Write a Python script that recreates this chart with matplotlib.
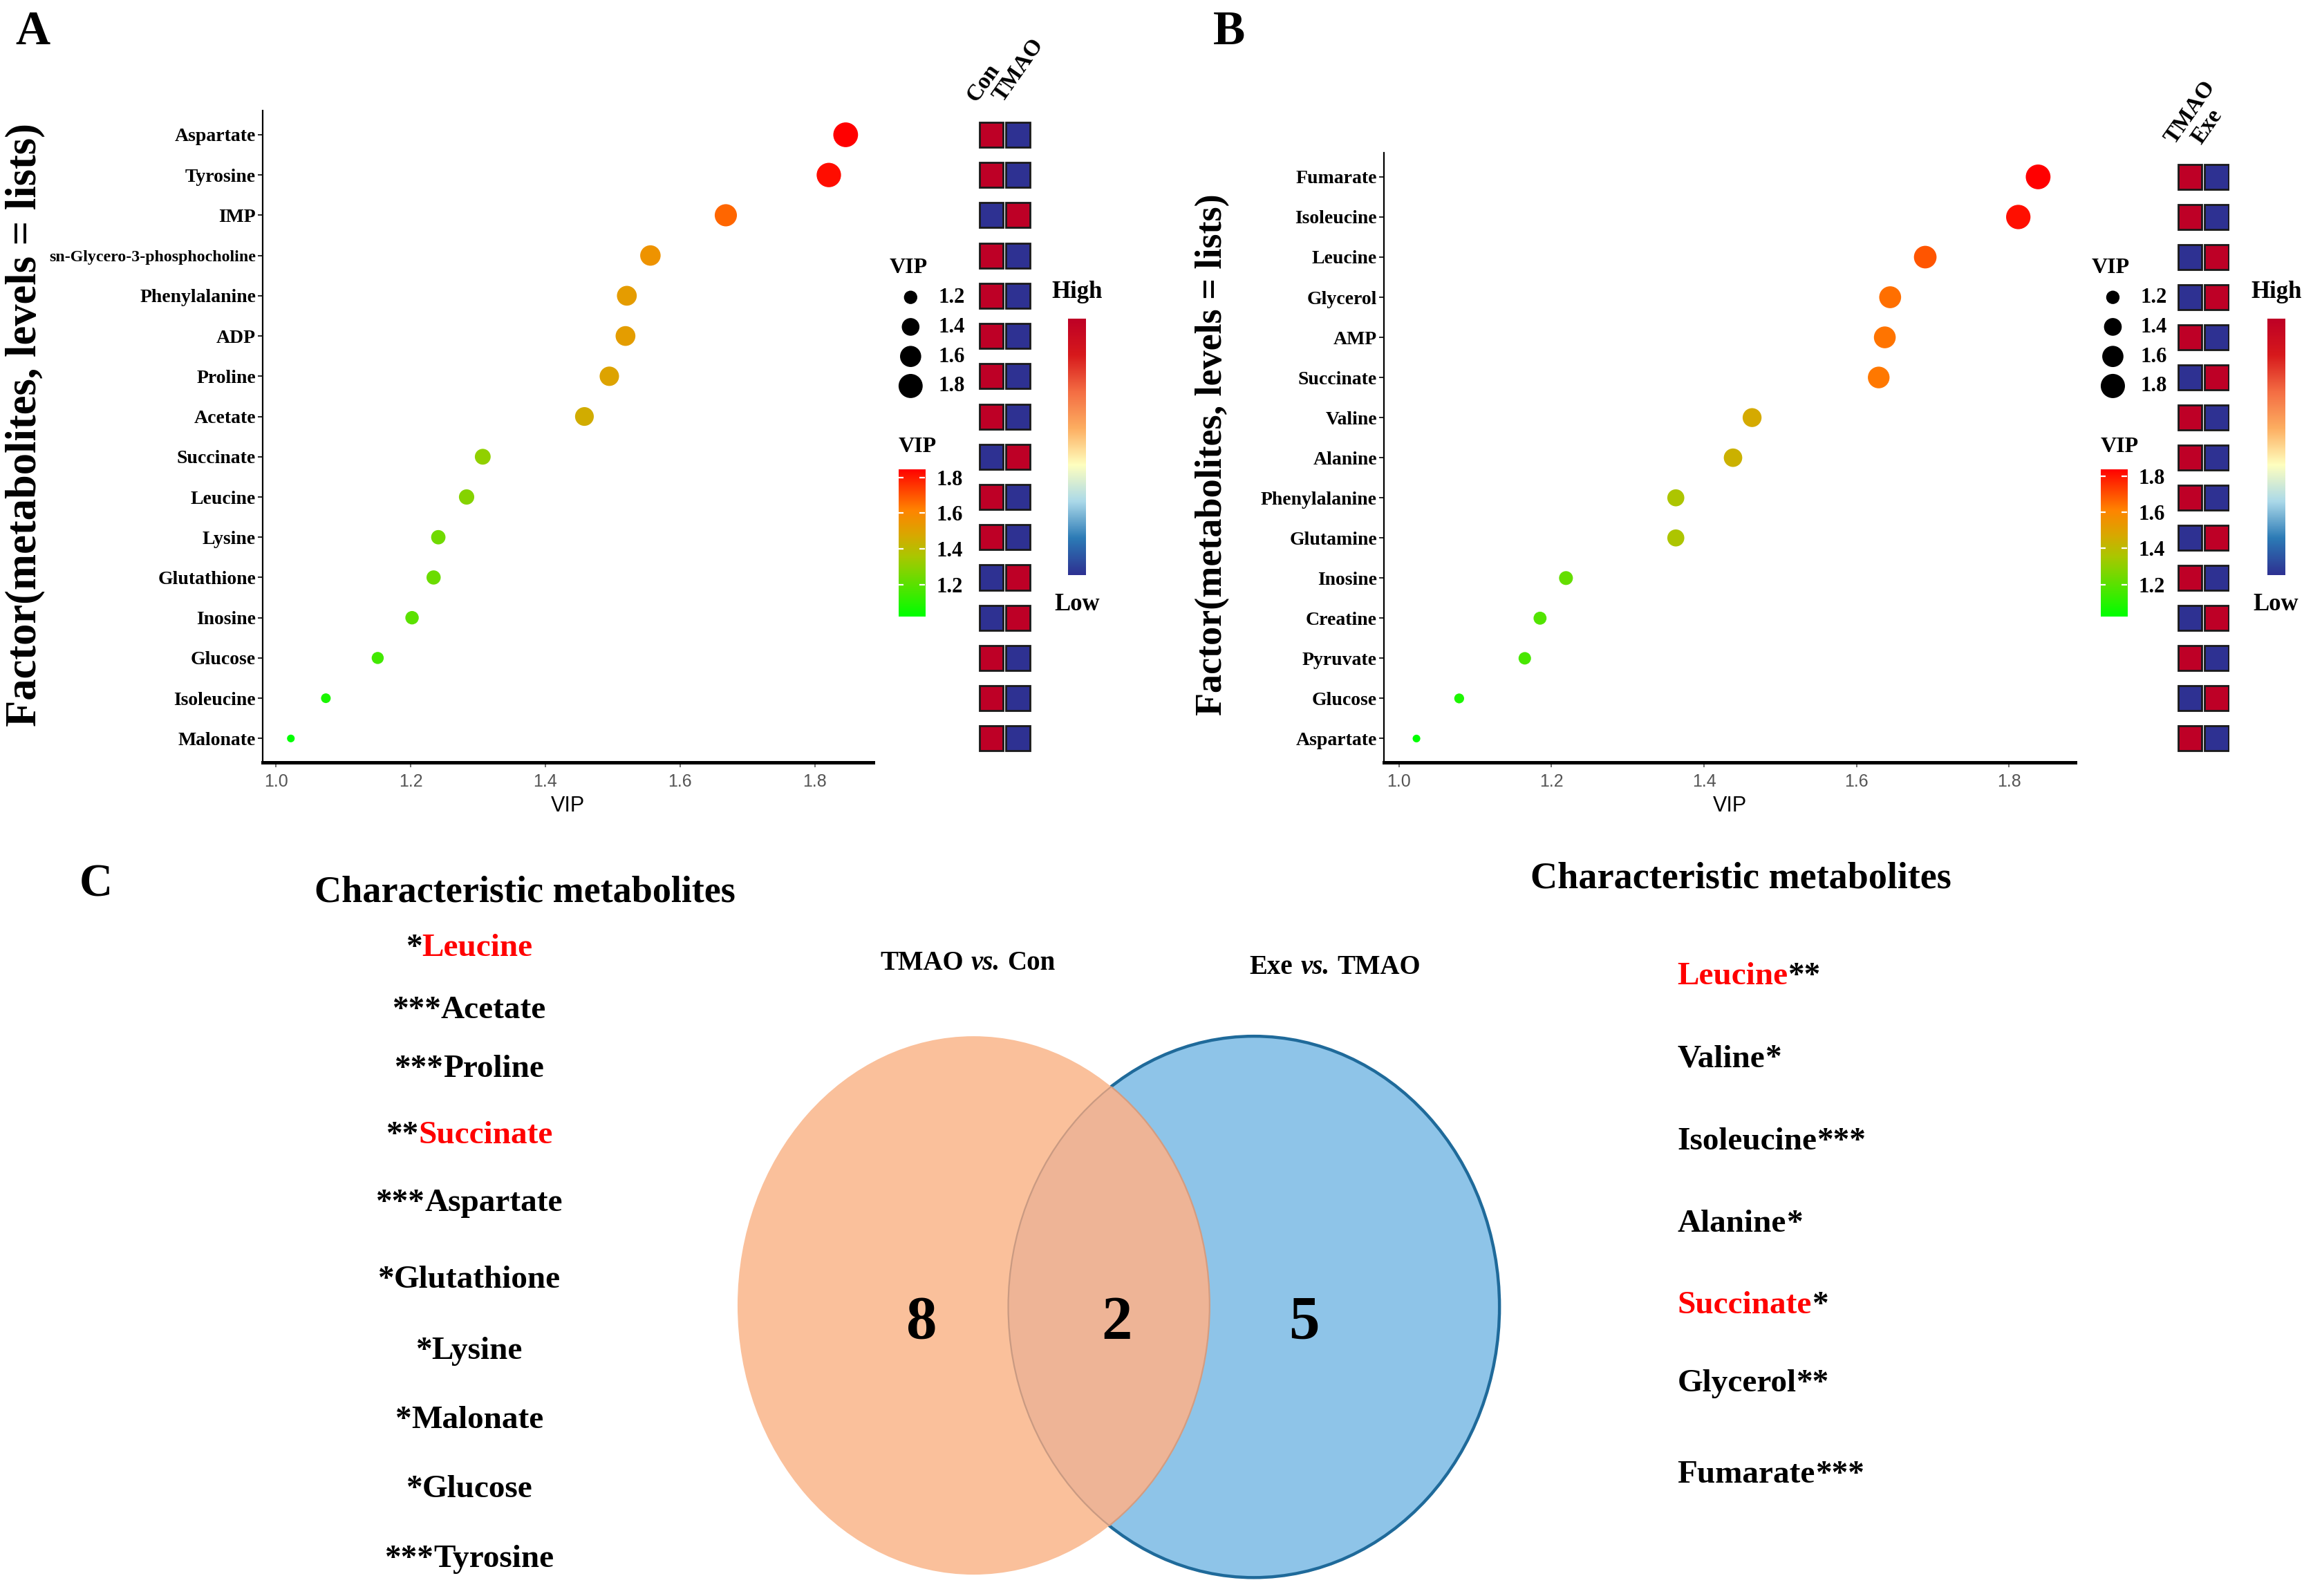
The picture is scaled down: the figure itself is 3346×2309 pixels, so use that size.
import numpy as np
import matplotlib
matplotlib.use('Agg')
import matplotlib.pyplot as plt
from matplotlib.colors import LinearSegmentedColormap, Normalize
from matplotlib.patches import Ellipse

plt.rcParams['font.family'] = ['Liberation Serif', 'DejaVu Serif']
plt.rcParams['font.weight'] = 'bold'

# ---- panel A : TMAO vs Con ----
a_names = ['Aspartate', 'Tyrosine', 'IMP', 'sn-Glycero-3-phosphocholine', 'Phenylalanine',
           'ADP', 'Proline', 'Acetate', 'Succinate', 'Leucine', 'Lysine', 'Glutathione',
           'Inosine', 'Glucose', 'Isoleucine', 'Malonate']
a_vip = [1.846, 1.821, 1.668, 1.556, 1.521, 1.519, 1.495, 1.458, 1.307, 1.283,
         1.241, 1.234, 1.202, 1.151, 1.074, 1.022]
a_con = [1, 1, 0, 1, 1, 1, 1, 1, 0, 1, 1, 0, 0, 1, 1, 1]   # 1 = high, 0 = low
a_tmao = [0, 0, 1, 0, 0, 0, 0, 0, 1, 0, 0, 1, 1, 0, 0, 0]
a_groups = ['Con', 'TMAO']

# ---- panel B : Exe vs TMAO ----
b_names = ['Fumarate', 'Isoleucine', 'Leucine', 'Glycerol', 'AMP', 'Succinate', 'Valine',
           'Alanine', 'Phenylalanine', 'Glutamine', 'Inosine', 'Creatine', 'Pyruvate',
           'Glucose', 'Aspartate']
b_vip = [1.838, 1.812, 1.690, 1.644, 1.637, 1.629, 1.463, 1.438, 1.363, 1.363,
         1.219, 1.185, 1.165, 1.079, 1.023]
b_tmao = [1, 1, 0, 0, 1, 0, 1, 1, 1, 0, 1, 0, 1, 0, 1]
b_exe = [0, 0, 1, 1, 0, 1, 0, 0, 0, 1, 0, 1, 0, 1, 0]
b_groups = ['TMAO', 'Exe']

vip_ticks = [1.0, 1.2, 1.4, 1.6, 1.8]
legend_vip = [1.2, 1.4, 1.6, 1.8]

# ---- panel C : characteristic metabolites ----
c_left = ['Leucine', 'Acetate', 'Proline', 'Succinate', 'Aspartate', 'Glutathione',
          'Lysine', 'Malonate', 'Glucose', 'Tyrosine']
c_left_stars = ['*', '***', '***', '**', '***', '*', '*', '*', '*', '***']
c_right = ['Leucine', 'Valine', 'Isoleucine', 'Alanine', 'Succinate', 'Glycerol', 'Fumarate']
c_right_stars = ['**', '*', '***', '*', '*', '**', '***']
c_sets = ['TMAO|vs.|Con', 'Exe|vs.|TMAO']

# layout grid (reference overview units)
W, H = 1568.0, 1082.0


def box(x0, y0, x1, y1):
    return [x0 / W, 1 - y1 / H, (x1 - x0) / W, (y1 - y0) / H]


vip_cmap = LinearSegmentedColormap.from_list(
    'vip', [(0, '#00FF00'), (0.4, '#A8C800'), (0.55, '#D8A800'), (0.72, '#FF8400'), (1, '#FF0000')])
hl_cmap = LinearSegmentedColormap.from_list(
    'hl', ['#2E3192', '#2C7BB6', '#ABD9E9', '#FFFFBF', '#FDAE61', '#F46D43', '#D7191C', '#BE0026'])

fig = plt.figure(figsize=(16.73, 11.545), dpi=200)


def dot_panel(ax_pos, heat_pos, names, vip, heat, groups, leg_x, bar_hl):
    n = len(names)
    yy = np.arange(n)
    vmin, vmax = min(vip), max(vip)
    size = lambda v: 16 + (np.asarray(v) - vmin) / (vmax - vmin) * 150
    ax = fig.add_axes(box(*ax_pos))
    ax.scatter(vip, yy, s=size(vip), c=vip, cmap=vip_cmap, norm=Normalize(vmin, vmax),
               edgecolors='none', zorder=3)
    ax.set_ylim(n - 0.4, -0.6)
    ax.set_xlim(0.98, 1.887)
    ax.set_xticks(vip_ticks)
    ax.set_xticklabels(['%.1f' % t for t in vip_ticks], family='Liberation Sans',
                       weight='normal', color='#555555', size=9)
    ax.set_yticks(yy)
    ax.set_yticklabels(names, size=10, weight='bold')
    for lab in ax.get_yticklabels():
        if len(lab.get_text()) > 20:
            lab.set_fontsize(8.6)
    ax.set_xlabel('VIP', family='Liberation Sans', weight='normal', size=11, labelpad=3)
    ax.spines['top'].set_visible(False)
    ax.spines['right'].set_visible(False)
    ax.spines['bottom'].set_linewidth(1.8)
    ax.spines['left'].set_linewidth(0.8)
    ax.tick_params(axis='y', length=2.5, width=0.6, pad=1)
    ax.tick_params(axis='x', length=2.5, width=0.6, color='#555555', pad=3)

    # heatmap of group levels
    hax = fig.add_axes(box(*heat_pos))
    for j, col in enumerate(heat):
        hax.barh(yy, 0.9, left=j - 0.45, height=0.62, color=[hl_cmap(float(v)) for v in col],
                 edgecolor='#1A1A1A', linewidth=1.0)
        hax.text(j - 0.42, -0.72, groups[j], rotation=55, rotation_mode='anchor',
                 ha='left', va='bottom', size=12, weight='bold')
    hax.set_xlim(-0.5, 1.5)
    hax.set_ylim(n - 0.4, -0.6)
    hax.axis('off')

    # size legend
    handles = [ax.scatter([], [], s=float(size(v)), c='black', edgecolors='none') for v in legend_vip]
    ax.legend(handles, ['%.1f' % v for v in legend_vip], title='VIP', loc='upper left',
              bbox_to_anchor=((leg_x - 6) / W, 1 - 175 / H), bbox_transform=fig.transFigure,
              frameon=False, fontsize=11, title_fontsize=11.5, labelspacing=0.45,
              handletextpad=0.3, borderpad=0, borderaxespad=0, alignment='left')

    # VIP colour bar
    fig.text(leg_x / W, 1 - 303 / H, 'VIP', size=11.5, weight='bold', va='center', ha='left')
    cax = fig.add_axes(box(leg_x, 318, leg_x + 18, 418))
    cax.imshow(np.linspace(vmin, vmax, 256)[:, None], aspect='auto', cmap=vip_cmap,
               origin='lower', extent=[0, 1, vmin, vmax])
    cax.set_xlim(0, 1)
    cax.set_ylim(vmin, vmax)
    cax.yaxis.tick_right()
    cax.set_yticks(legend_vip)
    cax.set_yticklabels(['%.1f' % v for v in legend_vip], size=11, weight='bold')
    cax.tick_params(length=0, pad=6)
    cax.set_xticks([])
    for s in cax.spines.values():
        s.set_visible(False)
    cax.hlines(legend_vip, 0, 0.2, color='white', lw=0.8)
    cax.hlines(legend_vip, 0.8, 1, color='white', lw=0.8)

    # High / Low bar
    bx0, bx1 = bar_hl
    hb = fig.add_axes(box(bx0, 216, bx1, 390))
    hb.imshow(np.linspace(0, 1, 256)[:, None], aspect='auto', cmap=hl_cmap, origin='lower')
    hb.axis('off')
    cx = (bx0 + bx1) / 2 / W
    fig.text(cx, 1 - 198 / H, 'High', ha='center', va='center', size=12.5, weight='bold')
    fig.text(cx, 1 - 410 / H, 'Low', ha='center', va='center', size=12.5, weight='bold')
    return ax


dot_panel((178, 75, 592, 517), (663, 75, 699, 517), a_names, a_vip, [a_con, a_tmao],
          a_groups, 609, (724, 736))
dot_panel((938, 103.6, 1407, 517), (1475.5, 103.6, 1511.5, 517), b_names, b_vip,
          [b_tmao, b_exe], b_groups, 1424, (1537, 1549))

ylab = 'Factor(metabolites, levels = lists)'
fig.text(17 / W, 1 - 288 / H, ylab, rotation=90, ha='center', va='center', size=22.5, weight='bold')
fig.text(822 / W, 1 - 308 / H, ylab, rotation=90, ha='center', va='center', size=19.5, weight='bold')

fig.text(22 / W, 1 - 22 / H, 'A', ha='center', va='center', size=25, weight='bold')
fig.text(833 / W, 1 - 22 / H, 'B', ha='center', va='center', size=25, weight='bold')
fig.text(65 / W, 1 - 600 / H, 'C', ha='center', va='center', size=24, weight='bold')

# ---- panel C ----
axc = fig.add_axes([0, 0, 1, 1], zorder=-1)
axc.set_xlim(0, W)
axc.set_ylim(H, 0)
axc.axis('off')
renderer = fig.canvas.get_renderer()


def runs(x, y, parts, size, ha='left', sep=0.0):
    objs, widths = [], []
    for s, color, style in parts:
        t = axc.text(x, y, s, color=color, style=style, size=size, weight='bold',
                     ha='left', va='center')
        objs.append(t)
        widths.append(t.get_window_extent(renderer).width * W / fig.bbox.width)
    gap = sep * size * fig.dpi / 72 * W / fig.bbox.width
    total = sum(widths) + gap * (len(parts) - 1)
    cur = x - total / 2 if ha == 'center' else x
    for t, w in zip(objs, widths):
        t.set_x(cur)
        cur += w + gap


shared = set(c_left) & set(c_right)
n_left = len(set(c_left) - shared)
n_both = len(shared)
n_right = len(set(c_right) - shared)

runs(356, 605, [('Characteristic metabolites', 'black', 'normal')], 19.5, ha='center')
runs(1180, 596, [('Characteristic metabolites', 'black', 'normal')], 19.5, ha='center')

c_left_y = [643, 685, 725, 770, 816, 868, 916, 963, 1010, 1057]
for name, st, y in zip(c_left, c_left_stars, c_left_y):
    col = 'red' if name in shared else 'black'
    runs(318, y, [(st, 'black', 'normal'), (name, col, 'normal')], 17, ha='center')

c_right_y = [662, 718, 774, 830, 885, 938, 1000]
for name, st, y in zip(c_right, c_right_stars, c_right_y):
    col = 'red' if name in shared else 'black'
    runs(1137, y, [(name, col, 'normal'), (st, 'black', 'normal')], 17)

t1, v1, c1 = c_sets[0].split('|')
t2, v2, c2 = c_sets[1].split('|')
runs(656, 653, [(t1, 'black', 'normal'), (v1, 'black', 'italic'), (c1, 'black', 'normal')],
     14, ha='center', sep=0.28)
runs(905, 656, [(t2, 'black', 'normal'), (v2, 'black', 'italic'), (c2, 'black', 'normal')],
     14, ha='center', sep=0.28)

right_e = Ellipse((850, 886), 333, 367, facecolor='#8EC4E8', edgecolor='#1F6A9A', lw=1.6)
left_e = Ellipse((660, 885), 320, 365, facecolor='#FAC09B', edgecolor='none')
axc.add_patch(right_e)
axc.add_patch(left_e)
mid_e = Ellipse((660, 885), 320, 365, facecolor='#EEB496', edgecolor='#D49C80', lw=0.8)
axc.add_patch(mid_e)
mid_e.set_clip_path(right_e)
inner_edge = Ellipse((850, 886), 333, 367, facecolor='none', edgecolor='#C99A82', lw=0.8)
axc.add_patch(inner_edge)
inner_edge.set_clip_path(left_e)

for x, v in zip([625, 757, 884], [n_left, n_both, n_right]):
    axc.text(x, 897, str(v), ha='center', va='center', size=32, weight='bold')

fig.savefig('out.png', dpi=200, facecolor='white')
